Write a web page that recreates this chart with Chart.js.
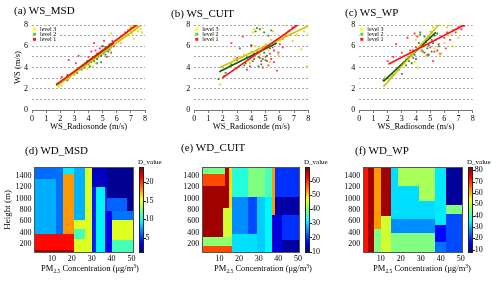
<!DOCTYPE html>
<html><head><meta charset="utf-8">
<script src="https://cdn.jsdelivr.net/npm/chart.js@4/dist/chart.umd.min.js"></script>
<style>
html,body{margin:0;padding:0;background:#fff}
#wrap{position:relative;width:500px;height:282px;overflow:hidden;font-family:"Liberation Serif","Times New Roman",serif;color:#000}
canvas{position:absolute}
.ttl{position:absolute;font-size:11px;line-height:11px;white-space:nowrap}
.xt{position:absolute;font-size:8.5px;line-height:9px;white-space:nowrap;transform:translateX(-50%)}
.xt sub{font-size:5.5px;vertical-align:-2px}
.xt sup{font-size:5.5px;vertical-align:3px}
</style></head>
<body><div id="wrap">
<canvas id="ca" width="150" height="125" style="left:0;top:15px"></canvas>
<canvas id="cb" width="150" height="125" style="left:165px;top:15px"></canvas>
<canvas id="cc" width="150" height="125" style="left:330px;top:15px"></canvas>
<canvas id="cd" width="170" height="132" style="left:0;top:150px"></canvas>
<canvas id="ce" width="165" height="132" style="left:170px;top:150px"></canvas>
<canvas id="cf" width="165" height="132" style="left:335px;top:150px"></canvas>
<div class="ttl" style="left:14px;top:5px">(a) WS_MSD</div>
<div class="ttl" style="left:171px;top:7.5px">(b) WS_CUIT</div>
<div class="ttl" style="left:345px;top:6.5px">(c) WS_WP</div>
<div class="ttl" style="left:25px;top:145px">(d) WD_MSD</div>
<div class="ttl" style="left:181px;top:141.5px">(e) WD_CUIT</div>
<div class="ttl" style="left:355px;top:145px">(f) WD_WP</div>
<div class="xt" style="left:90px;top:262px">PM<sub>2.5</sub> Concentration (μg/m<sup>3</sup>)</div>
<div class="xt" style="left:263px;top:262px">PM<sub>2.5</sub> Concentration (μg/m<sup>3</sup>)</div>
<div class="xt" style="left:422px;top:262px">PM<sub>2.5</sub> Concentration (μg/m<sup>3</sup>)</div>
</div>
<script>
// ---------------- data ----------------
const wsTicks = [0,1,2,3,4,5,6,7,8];
const levelNames = ['level 3','level 2','level 1'];

// (a) WS_MSD
const msdL3 = [[1.9,2.2],[2.1,2.3],[2.6,2.9],[2.7,3.1],[3.0,3.3],[3.3,3.9],[3.6,4.0],[3.9,3.9],[4.0,4.2],[4.2,4.7],[4.5,4.4],[4.6,5.0],[4.8,5.3],[5.0,5.5],[5.2,5.6],[5.5,5.8],[5.6,6.2],[5.8,6.4],[6.0,6.5],[6.2,6.6],[6.4,6.8],[6.5,7.0],[6.6,6.9],[6.7,7.2],[6.8,7.0],[7.0,7.4],[7.1,7.2],[7.2,7.6],[7.3,7.5],[7.4,7.8],[7.5,7.4],[7.6,7.9],[7.7,7.6],[7.2,6.7],[6.9,7.6],[5.6,7.2],[7.8,7.3],[4.3,4.1],[6.3,6.3],[7.0,7.9]];
const msdL2 = [[1.8,2.5],[2.5,2.8],[3.0,3.4],[3.2,3.5],[3.5,3.8],[3.7,4.0],[3.8,4.2],[4.0,4.3],[4.1,4.1],[4.2,4.5],[4.3,4.7],[4.4,4.6],[4.5,4.9],[4.6,4.8],[4.7,5.0],[4.8,5.2],[4.9,5.1],[5.0,5.3],[5.1,5.4],[5.2,5.2],[5.3,5.6],[5.4,5.5],[5.5,5.7],[5.6,5.9],[4.6,4.4],[4.9,4.5],[5.2,5.9],[5.0,6.0],[3.9,4.6],[5.5,6.1]];
const msdL1 = [[2.6,4.7],[2.1,3.1],[2.5,3.3],[3.0,3.6],[3.3,5.1],[3.6,4.0],[3.8,4.3],[4.0,5.0],[4.2,5.5],[4.3,5.0],[4.5,5.6],[4.6,5.3],[4.7,5.1],[4.8,5.8],[4.9,5.4],[5.0,6.0],[5.2,5.5],[5.3,5.0],[5.4,5.7],[5.5,6.2],[5.6,5.4],[5.7,6.5],[5.8,6.0],[6.0,6.6],[6.2,6.8],[6.4,7.0],[6.6,7.3],[6.8,7.5],[7.0,7.7],[7.2,7.8],[7.3,8.0],[7.4,7.9],[3.1,4.4],[4.4,6.3],[5.1,6.5]];
const msdFit3 = [[1.8,2.3],[7.7,7.95]];
const msdFit2 = [[1.7,2.35],[5.8,6.3]];
const msdFit1 = [[1.8,2.45],[7.4,8.0]];

// (b) WS_CUIT
const cuitL3 = [[1.8,2.4],[2.0,3.0],[2.5,4.2],[2.8,4.8],[3.0,3.9],[3.3,5.0],[3.5,5.2],[3.8,4.7],[4.0,5.5],[4.1,7.3],[4.2,7.6],[4.3,6.0],[4.5,5.8],[4.6,5.2],[4.8,7.7],[5.0,6.2],[5.2,5.6],[5.4,6.6],[5.5,7.4],[5.7,6.3],[5.9,5.2],[6.0,6.5],[6.2,6.8],[6.5,7.2],[6.7,7.5],[6.9,6.5],[7.0,7.8],[7.2,7.1],[7.5,5.7],[7.7,7.4],[7.9,4.1],[8.0,7.2],[6.4,8.0],[5.3,4.5],[3.9,4.4]];
const cuitL2 = [[1.7,2.9],[2.2,3.5],[2.6,4.3],[3.0,4.7],[3.2,5.8],[3.5,4.2],[3.7,4.9],[3.9,5.0],[4.0,6.1],[4.1,4.6],[4.2,5.3],[4.3,7.4],[4.4,7.7],[4.5,5.0],[4.6,7.6],[4.7,4.3],[4.8,4.8],[4.9,5.4],[5.0,6.0],[5.1,5.1],[5.2,7.0],[5.3,5.8],[5.4,7.5],[5.5,6.3],[4.5,4.1],[4.8,5.9],[4.9,7.3],[5.0,4.7],[3.6,4.4],[4.4,5.6]];
const cuitL1 = [[2.1,3.2],[2.6,6.3],[3.0,4.9],[3.4,6.9],[3.7,3.8],[3.9,4.1],[4.2,4.8],[4.5,5.4],[4.7,4.6],[4.8,4.0],[5.0,5.0],[5.1,4.6],[5.2,4.2],[5.3,5.3],[5.4,4.8],[5.5,5.9],[5.6,5.6],[5.7,6.5],[5.8,3.7],[5.9,5.4],[6.0,6.2],[6.2,6.7],[6.4,7.0],[6.6,7.4],[6.9,7.8],[7.1,8.0],[4.0,6.0],[5.6,4.5],[6.2,5.9],[4.6,4.9]];
const cuitFit3 = [[1.8,4.0],[8.0,7.9]];
const cuitFit2 = [[1.75,3.6],[5.8,6.3]];
const cuitFit1 = [[1.95,3.0],[7.25,8.0]];

// (c) WS_WP
const wpL3 = [[1.8,3.1],[2.2,3.2],[2.6,3.8],[3.0,4.1],[3.3,4.8],[3.6,5.2],[3.9,4.5],[4.0,6.6],[4.2,7.0],[4.4,5.5],[4.5,8.0],[4.6,6.2],[4.7,5.1],[4.9,6.9],[5.0,7.4],[5.2,7.8],[5.3,5.8],[5.5,8.0],[5.7,5.2],[5.9,8.0],[6.0,6.3],[6.2,7.8],[6.4,8.0],[6.6,6.0],[6.8,7.6],[7.0,6.8],[7.2,8.0],[4.1,4.0],[5.8,5.3],[6.5,7.1]];
const wpL2 = [[1.7,2.8],[2.0,3.0],[2.4,3.3],[2.8,3.8],[3.0,3.4],[3.3,4.2],[3.5,4.6],[3.7,4.4],[3.9,5.2],[4.0,4.8],[4.2,6.3],[4.3,7.3],[4.4,5.6],[4.5,6.0],[4.6,5.4],[4.7,6.5],[4.8,5.8],[4.9,6.1],[5.0,6.8],[5.1,5.5],[5.2,6.3],[5.3,7.0],[5.4,6.6],[5.5,7.2],[4.3,7.1],[4.9,5.2],[5.1,7.3],[3.8,5.6],[4.6,6.9],[5.6,6.0]];
const wpL1 = [[2.0,4.6],[2.4,5.0],[2.6,6.2],[3.0,5.4],[3.4,6.8],[3.6,5.6],[3.8,4.9],[4.0,5.9],[4.3,6.0],[4.5,5.5],[4.7,6.4],[4.8,5.2],[5.0,5.9],[5.1,6.6],[5.3,5.5],[5.5,5.6],[5.6,6.2],[5.7,5.3],[5.8,6.9],[6.0,6.8],[6.2,7.3],[6.4,6.6],[6.6,7.5],[6.8,7.3],[7.0,7.8],[7.2,7.6],[7.4,7.9],[3.9,7.2],[5.2,4.6],[6.1,5.8],[4.1,6.9]];
const wpFit3 = [[1.7,2.2],[5.6,8.0]];
const wpFit2 = [[1.7,2.7],[5.4,7.3]];
const wpFit1 = [[2.05,4.3],[7.4,8.0]];

// heat maps: [pm from, pm to, height from, height to, D_value]
const pmTicks = [10,20,30,40,50];
const heightTicks = [200,400,600,800,1000,1200,1400];
const msdRange = [1,24];   const msdBarTicks = [5,10,15,20];
const cuitRange = [9,70];  const cuitBarTicks = [10,20,30,40,50,60];
const wpRange = [7,83];    const wpBarTicks = [10,20,30,40,50,60,70,80];

const msdCells = [
 [1,12,1340,1550,6.3],[1,12,380,1340,7.8],[12,15.7,380,1550,6.4],
 [15.7,21,1420,1550,9.2],[15.7,21,380,1420,17.7],
 [1,21,110,380,21],[1,21,50,110,23.3],
 [21,26.5,630,1550,7.9],[21,26.5,465,630,14.6],[21,26.5,290,465,11.2],[21,26.5,50,290,14.6],
 [26.5,30,50,1550,14.6],
 [30,37.5,1200,1550,2.5],[30,32,50,1200,4.6],[32,36.8,50,1200,9.4],[36.8,37.5,780,1200,4.6],[36.8,40,50,780,3.4],
 [37.5,51,1000,1550,1.4],[37.5,47.7,780,1000,6.1],[47.7,51,780,1000,1.4],
 [40,51,625,780,6.5],[40,51,270,625,14.6],[40,51,50,270,11.2]
];
const cuitCells = [
 [1,12.6,1420,1550,39],[1,12.6,1215,1420,58],[1,14.7,825,1215,68],[12.6,14.7,1215,1550,67],
 [1,11.6,325,825,68],[11.6,16.4,325,825,44.5],[14.7,16.4,825,1550,49],
 [1,16.4,172,325,40.5],[1,16.4,50,172,58],
 [16.4,24.4,1020,1550,34],[24.4,33.2,1020,1550,39.5],[33.2,36.6,1020,1550,36],
 [16.4,24.4,380,1020,25],[24.4,29,380,1020,21],[16.4,29,50,380,30],
 [29,33.2,50,1020,29],[33.2,36.6,50,1020,31.5],
 [36.6,38.3,710,1550,53],
 [38.3,51,1020,1550,19.5],[38.3,51,710,1020,11.5],
 [36.6,41.7,50,710,14.5],[41.7,51,270,710,19.5],[41.7,51,50,270,11]
];
const wpCells = [
 [1,3.6,50,1550,72],[3.6,6.4,50,1550,80.5],
 [6.4,10.1,463,1550,62],[6.4,10.1,50,463,45],
 [10.1,15.3,688,1550,80.5],[10.1,15.3,50,688,51],
 [15.3,37,633,1550,33],[18.6,37,1210,1550,48],[29.2,37,950,1210,48],
 [15.3,37,400,633,27],[15.3,37,50,400,45],
 [37,42.5,545,1550,34],[37,42.5,248,545,17],[37,42.5,50,248,25],
 [42.5,51,890,1550,9],[42.5,51,735,890,45],[42.5,51,50,735,22]
];

// ---------------- drawing ----------------
Chart.defaults.font.family = '"Liberation Serif","Times New Roman",serif';
Chart.defaults.color = '#000';

const levelColors = ['#e2da00','#2f8f2f','#ff3050'];
const legendColors = ['#ffff00','#55d055','#ff1a1a'];
const fitColors = ['#cfc400','#145c14','#ff1010'];
const fitOrder = [1,2,0];

function clamp(v){return Math.max(0,Math.min(1,v));}
function jet(t){
  t = clamp(t);
  const r = clamp(Math.min(4*t-1.5,-4*t+4.5));
  const g = clamp(Math.min(4*t-0.5,-4*t+3.5));
  const b = clamp(Math.min(4*t+0.5,-4*t+2.5));
  return 'rgb('+Math.round(r*255)+','+Math.round(g*255)+','+Math.round(b*255)+')';
}
function fixedTicks(arr){return function(s){s.ticks = arr.map(v=>({value:v}));};}
const plainLabel = v => String(v);

const levelLegend = {
  id:'levelLegend',
  afterDatasetsDraw(chart){
    const {ctx, chartArea:a} = chart;
    ctx.save();
    ctx.fillStyle = '#fff';
    ctx.fillRect(a.left+0.5, a.top+1, 26, 16.5);
    ctx.font = '6px "Liberation Serif"';
    ctx.textBaseline = 'middle';
    for (let i=0;i<3;i++){
      const cy = a.top + 4.3 + i*5;
      ctx.fillStyle = legendColors[i];
      ctx.fillRect(a.left+1, cy-1.5, 3, 3);
      ctx.fillStyle = '#000';
      ctx.fillText(chart.data.datasets[i].label, a.left+8, cy+0.3);
    }
    ctx.restore();
  }
};

function scatterPanel(id, pts, fits, yWidth, padRight, yTitle){
  const datasets = pts.map((p,i)=>({label:levelNames[i], data:p, showLine:false, pointStyle:'rect',
      pointRadius:1.3, pointBorderWidth:0, backgroundColor:levelColors[i], borderColor:levelColors[i], order:3+i}));
  fits.forEach((f,i)=>datasets.push({label:'fit '+levelNames[i], data:f, showLine:true, pointRadius:0,
      borderColor:fitColors[i], borderWidth:1.6, order:fitOrder[i]}));
  new Chart(document.getElementById(id), {
    type:'scatter',
    data:{datasets},
    options:{
      responsive:false, animation:false, devicePixelRatio:1,
      layout:{padding:{top:10,right:padRight,left:0,bottom:0}, autoPadding:false},
      plugins:{legend:{display:false}, tooltip:{enabled:false}},
      scales:{
        x:{type:'linear', min:0, max:8, afterBuildTicks:fixedTicks(wsTicks), afterFit:s=>{s.height=30;},
           ticks:{font:{size:8}, padding:1, maxRotation:0, autoSkip:false, callback:plainLabel},
           grid:{drawOnChartArea:false, drawTicks:true, tickLength:3, color:'#777'},
           border:{display:true, color:'#777'},
           title:{display:true, text:'WS_Radiosonde (m/s)', font:{size:8.5}, padding:{top:0,bottom:8}}},
        y:{type:'linear', min:0, max:8, afterBuildTicks:fixedTicks(wsTicks), afterFit:s=>{s.width=yWidth;},
           ticks:{font:{size:8}, padding:4, autoSkip:false, callback:v=>(v%2===0?String(v):'')},
           grid:{color:'#a8a8a8', drawTicks:false},
           border:{display:false, dash:[2,2]},
           title:{display:!!yTitle, text:yTitle||'', font:{size:8.5}, padding:{top:13,bottom:0}}}
      }
    },
    plugins:[levelLegend]
  });
}

function heatPlugin(cells){
  return {
    id:'heat',
    beforeDatasetsDraw(chart){
      const {ctx, chartArea:a, scales} = chart;
      const x = scales.x, y = scales.y, c = scales.y2;
      ctx.save();
      ctx.beginPath(); ctx.rect(a.left,a.top,a.width,a.height); ctx.clip();
      for (const [x0,x1,y0,y1,v] of cells){
        const px0 = Math.round(x.getPixelForValue(x0)), px1 = Math.round(x.getPixelForValue(x1));
        const py0 = Math.round(y.getPixelForValue(y0)), py1 = Math.round(y.getPixelForValue(y1));
        ctx.fillStyle = jet((v-c.min)/(c.max-c.min));
        ctx.fillRect(px0, py1, px1-px0, py0-py1);
      }
      ctx.restore();
      ctx.save();
      ctx.strokeStyle = '#555'; ctx.lineWidth = 1;
      ctx.strokeRect(Math.round(a.left)+0.5, Math.round(a.top)+0.5, Math.round(a.width)-1, Math.round(a.height)-1);
      // colour bar
      const cbL = Math.round(c.left+5), cbW = 5;
      for (let p = Math.round(c.top); p < Math.round(c.bottom); p++){
        const v = c.getValueForPixel(p+0.5);
        ctx.fillStyle = jet((v-c.min)/(c.max-c.min));
        ctx.fillRect(cbL, p, cbW, 1);
      }
      ctx.strokeStyle = '#222';
      ctx.strokeRect(cbL+0.5, Math.round(c.top)+0.5, cbW-1, Math.round(c.bottom-c.top)-1);
      ctx.beginPath();
      for (const t of c.ticks){
        const py = Math.round(c.getPixelForValue(t.value))+0.5;
        ctx.moveTo(cbL+cbW, py); ctx.lineTo(cbL+cbW+2, py);
      }
      ctx.stroke();
      ctx.fillStyle = '#000';
      ctx.font = '7px "Liberation Serif"';
      ctx.textBaseline = 'bottom';
      ctx.fillText('D_value', cbL-1, a.top-1);
      ctx.restore();
    }
  };
}

function heatPanel(id, cells, range, barTicks, yWidth, y2Width, yTitle){
  new Chart(document.getElementById(id), {
    type:'scatter',
    data:{datasets:[]},
    options:{
      responsive:false, animation:false, devicePixelRatio:1,
      layout:{padding:{top:10,right:0,left:0,bottom:0}, autoPadding:false},
      plugins:{legend:{display:false}, tooltip:{enabled:false}},
      scales:{
        x:{type:'linear', min:1, max:51, afterBuildTicks:fixedTicks(pmTicks), afterFit:s=>{s.height=29;},
           ticks:{font:{size:8}, padding:1, maxRotation:0, autoSkip:false, callback:plainLabel},
           grid:{display:false, drawTicks:false}, border:{display:false}},
        y:{type:'linear', min:50, max:1550, afterBuildTicks:fixedTicks(heightTicks), afterFit:s=>{s.width=yWidth;},
           ticks:{font:{size:8}, padding:2.5, autoSkip:false, callback:plainLabel},
           grid:{display:false, drawTicks:false}, border:{display:false},
           title:{display:!!yTitle, text:yTitle||'', font:{size:9}, padding:{top:2,bottom:0}}},
        y2:{type:'linear', position:'right', min:range[0], max:range[1], afterBuildTicks:fixedTicks(barTicks),
           afterFit:s=>{s.width=y2Width;},
           ticks:{font:{size:8}, padding:12, autoSkip:false, callback:plainLabel},
           grid:{display:false, drawTicks:false}, border:{display:false}}
      }
    },
    plugins:[heatPlugin(cells)]
  });
}

scatterPanel('ca', [msdL3,msdL2,msdL1], [msdFit3,msdFit2,msdFit1], 32, 5, 'WS (m/s)');
scatterPanel('cb', [cuitL3,cuitL2,cuitL1], [cuitFit3,cuitFit2,cuitFit1], 29.3, 6.7, '');
scatterPanel('cc', [wpL3,wpL2,wpL1], [wpFit3,wpFit2,wpFit1], 29.3, 7.3, '');
heatPanel('cd', msdCells, msdRange, msdBarTicks, 34, 36.5, 'Height (m)');
heatPanel('ce', cuitCells, cuitRange, cuitBarTicks, 31.7, 35, '');
heatPanel('cf', wpCells, wpRange, wpBarTicks, 27.7, 37.3, '');
</script>
</body></html>
